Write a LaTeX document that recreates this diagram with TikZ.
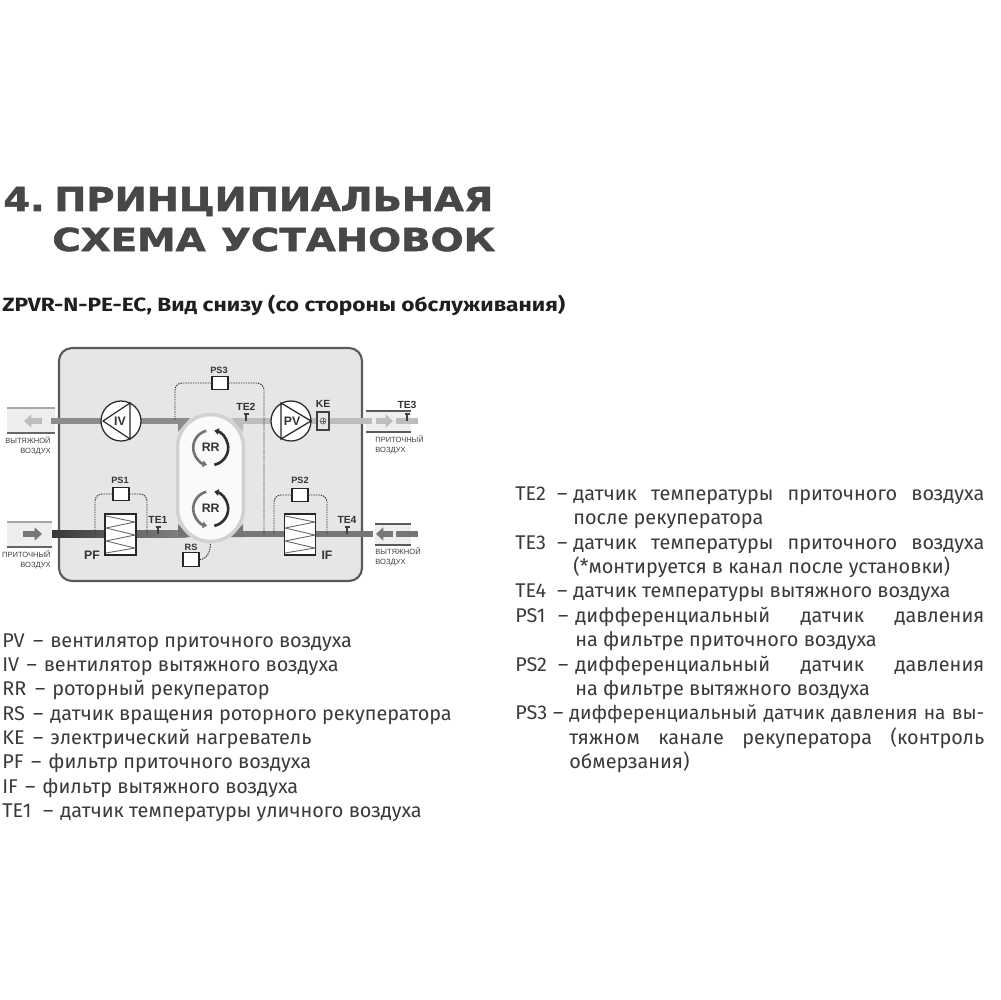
\documentclass[tikz,border=0pt]{standalone}
\usepackage{fontspec}
\usepackage{graphicx}
\setmainfont{Fira Sans}
\setsansfont{Liberation Sans}
\newfontfamily\titlefont[BoldFeatures={FakeBold=1.6}]{DejaVu Sans}
\usetikzlibrary{arrows.meta}

\definecolor{boxfill}{HTML}{E6E6E6}
\definecolor{boxedge}{HTML}{5A5A5A}
\definecolor{ductout}{HTML}{8C8C8C}
\definecolor{ductin}{HTML}{BDBDBD}
\definecolor{ductex}{HTML}{767676}
\definecolor{ductend}{HTML}{EEEEEE}
\definecolor{bodytext}{HTML}{3A3A3A}

\newlength{\pxunit}
\setlength{\pxunit}{.02cm}
\newcommand{\fitline}[2]{\makebox[#1\pxunit][s]{#2}}

\tikzset{
  legend/.style={anchor=base west, inner sep=0, text=bodytext, font=\fontsize{11.3}{13}\selectfont},
  tag/.style={inner sep=0, font=\sffamily\bfseries\fontsize{5.2}{6}\selectfont, text=black!80},
  tetag/.style={tag, font=\sffamily\bfseries\fontsize{5.9}{6}\selectfont},
  bigtag/.style={tag, font=\sffamily\bfseries\fontsize{7}{8}\selectfont},
  airtag/.style={inner sep=0, align=left, font=\sffamily\fontsize{4.3}{5.6}\selectfont, text=black!75},
  sensorbox/.style={draw=black!85, fill=white, line width=.6pt, minimum width=.32cm, minimum height=.27cm, inner sep=0},
  fan/.style={draw=black!85, fill=white, circle, line width=.7pt, minimum size=.8cm, inner sep=0},
  filterbox/.style={draw=black!85, fill=white, line width=.7pt, minimum width=.62cm, minimum height=.82cm, inner sep=0},
  sensorline/.style={black!80, line width=.55pt, dash pattern=on .8pt off .6pt, rounded corners=4pt},
  duct/.style={line width=3.6pt},
  airarrow/.style={line width=3.6pt, -{Triangle[length=4.2pt, width=7.4pt]}},
  endline/.style={line width=.7pt},
  tmark/.style={black!75, line width=.8pt},
  rotor/.style={line width=1.5pt}
}

\begin{document}
\begin{tikzpicture}[x=.02cm,y=-.02cm]
\useasboundingbox (0,0) rectangle (1000,1000);
\fill[white] (0,0) rectangle (1000,1000);

% title
\node[anchor=base west, inner sep=0, text=black!72] (title1) at (3,211) {\resizebox{9.8cm}{.48cm}{\titlefont\bfseries 4.\hspace{.25em}ПРИНЦИПИАЛЬНАЯ}};
\node[anchor=base west, inner sep=0, text=black!72] (title2) at (52,251) {\resizebox{8.86cm}{.47cm}{\titlefont\bfseries СХЕМА\hspace{.4em}УСТАНОВОК}};
\node[anchor=base west, inner sep=0, text=black!88] (subtitle) at (2,311) {\resizebox{11.26cm}{.33cm}{\bfseries ZPVR-N-PE-EC, Вид снизу (со стороны обслуживания)}};

% casing
\draw[boxedge, fill=boxfill, line width=1.2pt, rounded corners=.26cm] (59,348) rectangle (362,581);

% air ends outside
\fill[ductend] (7,408) rectangle (55,433);
\draw[endline, black!35] (7,408) -- (55,408);
\draw[endline, black!60] (7,433) -- (55,433);
\fill[ductend] (7,522) rectangle (52,547);
\draw[endline, black!35] (7,522) -- (52,522);
\draw[endline, black!60] (7,547) -- (52,547);
\fill[ductend] (366,411) rectangle (411,432);
\draw[endline, black!65] (366,411) -- (411,411);
\draw[endline, black!65] (366,432) -- (411,432);
\fill[ductend] (375,524) rectangle (411,545);
\draw[endline, black!65] (375,524) -- (411,524);
\draw[endline, black!65] (375,545) -- (411,545);

% named points on ducts
\coordinate (outstart) at (51,421);
\coordinate (tapiv) at (175,421);
\coordinate (tapmid) at (264,534);
\coordinate (tapa) at (95,534);
\coordinate (tapb) at (147,534);
\coordinate (tapc) at (274,534);
\coordinate (tapd) at (327,534);
\coordinate (supend) at (372,421);
\coordinate (exend) at (373,534);

% rotor body comes later, ducts first
\draw[duct, ductout] (outstart) -- (186,421);
\shade[left color=black!78, right color=black!48] (52,530.8) rectangle (186,537.2);
\draw[duct, ductin] (235,421) -- (supend);
\draw[duct, ductex] (235,534) -- (exend);
\fill[ductout] (178,418) -- (190,418) -- (178,432) -- cycle;
\fill[ductin] (243,418) -- (231,418) -- (243,432) -- cycle;
\fill[black!55] (178,537) -- (190,537) -- (178,524) -- cycle;
\fill[ductex] (243,537) -- (231,537) -- (243,524) -- cycle;

% arrows outside
\draw[airarrow, ductin] (42,421) -- (24,421);
\draw[airarrow, ductex] (23,534) -- (42,534);
\draw[airarrow, ductin] (376,421) -- (393,421);
\draw[duct, ductin] (396,421) -- (418,421);
\draw[airarrow, ductex] (393,534) -- (376,534);
\draw[duct, ductex] (396,534) -- (418,534);

% sensors
\node[sensorbox] (ps3) at (220,383) {};
\node[tag] (ps3t) at (219,370) {PS3};
\node[sensorbox] (ps1) at (121,494) {};
\node[tag] (ps1t) at (120,480) {PS1};
\node[sensorbox] (ps2) at (300,495) {};
\node[tag] (ps2t) at (300,480) {PS2};
\node[sensorbox] (rs) at (191,559.5) {};
\node[tag] (rst) at (191,547) {RS};

% sensor lines
\draw[sensorline] (ps3.west) -| (tapiv);
\draw[sensorline] (ps3.east) -| (tapmid);
\draw[sensorline] (ps1.west) -| (tapa);
\draw[sensorline] (ps1.east) -| (tapb);
\draw[sensorline] (ps2.west) -| (tapc);
\draw[sensorline] (ps2.east) -| (tapd);

% rotor
\node[draw=black!18, fill=white!98!black, line width=2pt, rounded corners=.66cm, minimum width=1.32cm, minimum height=2.54cm, inner sep=0] (rr) at (210.5,478) {};
\draw[black!80, line width=.55pt, dash pattern=on .8pt off .6pt] (rs.east) to[out=0, in=-90] (rr.south);
\coordinate (rra) at (210.7,447.7);
\coordinate (rrb) at (210.7,508.7);
\foreach \c/\n in {rra/rrat,rrb/rrbt}{
  \draw[rotor, black!55, -{Triangle[length=2.5pt, width=3.8pt]}] (\c) ++(-105:17.5) arc[start angle=-105, end angle=-258, radius=17.5];
  \draw[rotor, black!82, -{Triangle[length=2.5pt, width=3.8pt]}] (\c) ++(78:17.5) arc[start angle=78, end angle=-78, radius=17.5];
  \node[bigtag] (\n) at (\c) {RR};
}

% fans
\node[fan] (iv) at (121,421) {};
\draw[black!85, line width=.7pt] (103,421) -- (130,403) -- (130,439) -- cycle;
\node[bigtag] (ivt) at (120,421) {IV};
\node[fan] (pv) at (291,421) {};
\draw[black!85, line width=.7pt] (311,421) -- (281,403) -- (281,439) -- cycle;
\node[bigtag] (pvt) at (292,421) {PV};

% heater
\node[draw=black!75, fill=boxfill, line width=.6pt, minimum width=.24cm, minimum height=.36cm, inner sep=0] (ke) at (323,421) {};
\node[draw=black!60, circle, minimum size=.12cm, inner sep=0, path picture={\draw[black!60, line width=.3pt] (path picture bounding box.north) -- (path picture bounding box.south) (path picture bounding box.west) -- (path picture bounding box.east);}] (kec) at (323,421) {};
\node[tetag] (ket) at (323,404) {KE};

% filters
\node[filterbox] (pf) at (120.5,534.5) {};
\draw[black!60, line width=.5pt] (106,516) -- (135,522) -- (106,528) -- (135,535) -- (106,541) -- (135,548) -- (106,553);
\node[bigtag] (pft) at (92,555) {PF};
\node[filterbox] (if) at (300,534.5) {};
\draw[black!60, line width=.5pt] (285,516) -- (315,522) -- (285,528) -- (315,535) -- (285,541) -- (315,548) -- (285,553);
\node[bigtag] (ift) at (327,555.5) {IF};

% temperature marks
\foreach \n/\x/\y/\lab/\ly in {te1/158/534/TE1/520, te2/246/421/TE2/407, te3/407/421/TE3/405, te4/347/534/TE4/520}{
  \coordinate (\n) at (\x,\y);
  \draw[tmark] (\n) -- ++(0,-7) ++(-2.5,0) -- ++(5,0);
  \node[tetag] (\n t) at (\x,\ly) {\lab};
}

% air labels
\node[airtag, anchor=east, align=right] (air1) at (51,446) {ВЫТЯЖНОЙ\\ВОЗДУХ};
\node[airtag, anchor=east, align=right] (air2) at (51,560) {ПРИТОЧНЫЙ\\ВОЗДУХ};
\node[airtag, anchor=west] (air3) at (375,445) {ПРИТОЧНЫЙ\\ВОЗДУХ};
\node[airtag, anchor=west] (air4) at (375,557) {ВЫТЯЖНОЙ\\ВОЗДУХ};

% legend left
\foreach \n/\y/\x/\w/\lab/\txt in {1/647/50/41/{PV –}/{вентилятор приточного воздуха},
  2/671/43.5/34.5/{IV –}/{вентилятор вытяжного воздуха},
  3/695.5/52/43/{RR –}/{роторный рекуператор},
  4/720/50/41/{RS –}/{датчик вращения роторного рекуператора},
  5/744/50/41/{KE –}/{электрический нагреватель},
  6/768.5/48/39/{PF –}/{фильтр приточного воздуха},
  7/793/42/33/{IF –}/{фильтр вытяжного воздуха},
  8/817/60/51/{TE1 –}/{датчик температуры уличного воздуха}}{
  \node[legend] (leftlab\n) at (2,\y) {\fitline{\w}{\lab}};
  \node[legend] (lefttxt\n) at (\x,\y) {\txt};
}

% legend right
\node[legend] (lab1) at (515,500) {\fitline{52}{TE2 –}};
\node[legend] (txt1) at (573,500) {\fitline{411}{датчик температуры приточного воздуха}};
\node[legend] (txt2) at (573,524.5) {после рекуператора};
\node[legend] (lab2) at (515,549) {\fitline{52}{TE3 –}};
\node[legend] (txt3) at (573,549) {\fitline{411}{датчик температуры приточного воздуха}};
\node[legend] (txt4) at (573,573.5) {(*монтируется в канал после установки)};
\node[legend] (lab3) at (515,597.5) {\fitline{52}{TE4 –}};
\node[legend] (txt5) at (573,597.5) {датчик температуры вытяжного воздуха};
\node[legend] (lab4) at (515,622) {\fitline{53}{PS1 –}};
\node[legend] (txt6) at (575,622) {\fitline{409}{дифференциальный датчик давления}};
\node[legend] (txt7) at (575,646.5) {на фильтре приточного воздуха};
\node[legend] (lab5) at (515,671) {\fitline{53}{PS2 –}};
\node[legend] (txt8) at (575,671) {\fitline{409}{дифференциальный датчик давления}};
\node[legend] (txt9) at (575,695.5) {на фильтре вытяжного воздуха};
\node[legend] (lab6) at (515,719.5) {\fitline{48}{PS3 –}};
\node[legend, font=\fontsize{10.9}{13}\selectfont] (txt10) at (569,719.5) {\fitline{415}{дифференциальный датчик давления на вы-}};
\node[legend] (txt11) at (569,744) {\fitline{415}{тяжном канале рекуператора (контроль}};
\node[legend] (txt12) at (569,768) {обмерзания)};

\end{tikzpicture}
\end{document}
